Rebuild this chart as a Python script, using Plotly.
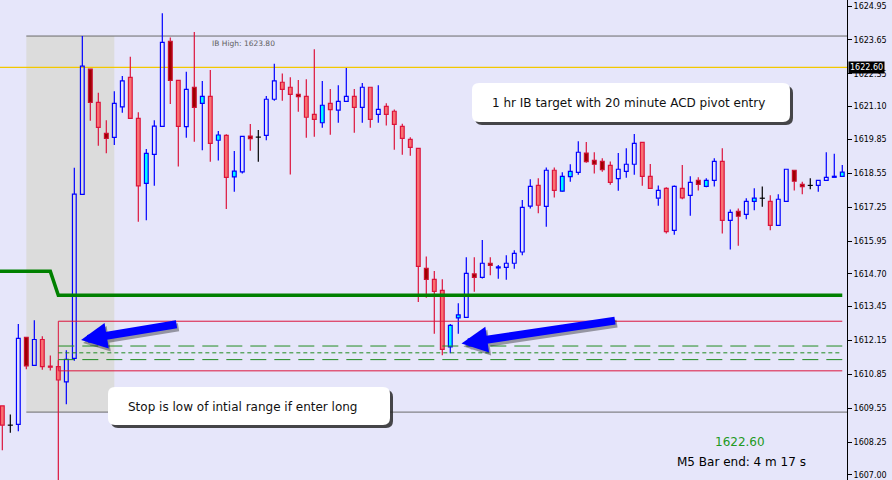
import plotly.graph_objects as go

# M5 bars, oldest first ########################################################
bar_open = [
    1609.64, 1608.90, 1608.93, 1612.26, 1611.19, 1612.18, 1611.16, 1611.14, 1610.56, 1611.46,
    1617.74, 1622.53, 1621.26, 1620.07, 1619.92, 1621.09, 1622.22, 1620.65, 1618.16, 1619.27,
    1620.34, 1623.60, 1622.10, 1620.33, 1621.84, 1621.22, 1621.49, 1619.81, 1620.00, 1618.41,
    1618.60, 1619.97, 1619.93, 1620.00, 1621.38, 1622.03, 1621.84, 1621.57, 1621.49, 1620.80,
    1620.48, 1621.22, 1620.96, 1621.30, 1621.49, 1621.07, 1621.84, 1620.80, 1621.11, 1620.92,
    1620.34, 1619.84, 1619.50, 1614.90, 1614.48, 1614.06, 1611.90, 1613.01, 1613.03, 1614.69,
    1614.56, 1615.10, 1614.92, 1614.94, 1615.10, 1615.53, 1617.29, 1618.08, 1617.28, 1618.66,
    1617.86, 1618.42, 1618.58, 1619.32, 1619.04, 1619.00, 1618.85, 1618.34, 1618.62, 1618.89,
    1619.73, 1618.43, 1617.59, 1617.97, 1616.36, 1617.97, 1617.70, 1618.27, 1618.04, 1618.27,
    1619.00, 1616.74, 1617.09, 1616.97, 1617.47, 1617.59, 1617.47, 1616.55, 1617.47, 1618.66,
    1618.12, 1618.08, 1618.08, 1618.27, 1618.39, 1618.43,
]
bar_high = [
    1609.64, 1609.31, 1612.77, 1612.26, 1612.92, 1612.30, 1611.57, 1611.39, 1611.77, 1618.76,
    1623.80, 1622.53, 1621.63, 1620.58, 1621.69, 1622.27, 1623.01, 1620.88, 1619.47, 1620.58,
    1624.67, 1623.74, 1622.10, 1622.43, 1623.95, 1622.08, 1622.50, 1620.16, 1620.04, 1619.40,
    1619.96, 1620.43, 1620.20, 1621.50, 1622.74, 1622.37, 1622.22, 1622.12, 1622.15, 1623.29,
    1622.08, 1621.77, 1621.92, 1622.58, 1621.77, 1622.00, 1621.84, 1621.92, 1621.23, 1620.99,
    1620.44, 1619.92, 1619.50, 1615.36, 1614.80, 1614.49, 1612.77, 1613.57, 1615.33, 1615.33,
    1615.99, 1615.33, 1615.03, 1615.41, 1615.60, 1617.52, 1618.32, 1618.35, 1618.77, 1618.77,
    1618.58, 1618.89, 1619.77, 1619.74, 1619.35, 1619.12, 1619.00, 1619.32, 1619.50, 1620.05,
    1619.73, 1618.90, 1618.08, 1618.01, 1618.08, 1618.86, 1618.43, 1618.39, 1618.35, 1619.12,
    1619.50, 1617.16, 1617.20, 1617.59, 1617.97, 1618.04, 1617.70, 1617.74, 1618.70, 1618.66,
    1618.22, 1618.35, 1618.27, 1619.35, 1619.29, 1618.86,
]
bar_low = [
    1607.94, 1608.61, 1608.67, 1611.04, 1611.19, 1611.02, 1610.99, 1606.40, 1609.70, 1611.37,
    1617.74, 1620.56, 1619.60, 1619.31, 1619.63, 1620.86, 1620.65, 1616.69, 1616.75, 1618.07,
    1620.33, 1621.20, 1618.80, 1619.91, 1619.75, 1619.43, 1618.99, 1619.03, 1617.18, 1617.84,
    1618.54, 1619.41, 1618.99, 1619.81, 1621.32, 1621.32, 1618.50, 1620.90, 1619.91, 1619.94,
    1620.29, 1620.02, 1620.48, 1621.30, 1620.10, 1620.48, 1620.29, 1620.48, 1620.37, 1619.45,
    1619.25, 1619.22, 1613.62, 1613.78, 1612.40, 1611.58, 1611.65, 1612.40, 1613.03, 1614.01,
    1614.52, 1614.64, 1614.51, 1614.47, 1614.89, 1615.41, 1617.20, 1617.01, 1616.50, 1617.62,
    1617.84, 1618.22, 1618.49, 1618.95, 1618.54, 1618.60, 1618.11, 1617.88, 1618.37, 1618.49,
    1618.07, 1617.97, 1617.30, 1616.24, 1616.19, 1617.55, 1616.92, 1617.89, 1618.01, 1618.04,
    1616.24, 1615.63, 1615.77, 1616.78, 1617.13, 1617.26, 1616.36, 1616.55, 1617.47, 1617.89,
    1617.74, 1617.93, 1617.84, 1618.27, 1618.39, 1618.43,
]
bar_close = [
    1608.90, 1608.90, 1612.22, 1611.17, 1612.18, 1611.14, 1611.12, 1610.63, 1611.42, 1617.75,
    1622.65, 1621.26, 1620.30, 1619.88, 1621.22, 1622.08, 1620.65, 1618.06, 1619.31, 1620.35,
    1623.56, 1622.10, 1620.34, 1621.76, 1621.07, 1621.49, 1619.69, 1620.01, 1618.39, 1618.63,
    1619.96, 1619.87, 1619.93, 1621.38, 1622.08, 1621.76, 1621.57, 1621.48, 1620.69, 1620.61,
    1621.15, 1620.98, 1621.30, 1621.49, 1621.07, 1621.84, 1620.61, 1620.99, 1620.80, 1620.42,
    1619.88, 1619.54, 1614.98, 1614.48, 1614.02, 1611.80, 1612.72, 1613.12, 1614.71, 1614.56,
    1615.10, 1615.02, 1614.96, 1615.10, 1615.48, 1617.24, 1618.04, 1617.32, 1618.66, 1617.89,
    1618.43, 1618.62, 1619.35, 1618.99, 1618.89, 1618.68, 1618.20, 1618.70, 1618.89, 1619.69,
    1618.43, 1617.97, 1617.89, 1616.31, 1618.04, 1617.60, 1618.20, 1618.12, 1618.27, 1619.00,
    1616.74, 1617.05, 1616.90, 1617.47, 1617.59, 1617.59, 1616.55, 1617.55, 1618.70, 1618.24,
    1618.03, 1618.08, 1618.27, 1618.39, 1618.43, 1618.59,
]
# u = bull hollow, c = bull filled, d = bear, r = bear dark, x = doji
bar_kind = [
    'd', 'x', 'u', 'r', 'u', 'd', 'd', 'd', 'u', 'u',
    'u', 'r', 'd', 'r', 'u', 'u', 'd', 'd', 'c', 'u',
    'u', 'r', 'd', 'u', 'r', 'c', 'd', 'c', 'd', 'c',
    'u', 'r', 'x', 'u', 'u', 'd', 'd', 'r', 'd', 'd',
    'c', 'd', 'u', 'u', 'd', 'u', 'd', 'u', 'd', 'd',
    'd', 'd', 'd', 'r', 'd', 'd', 'c', 'c', 'u', 'r',
    'u', 'r', 'c', 'u', 'u', 'u', 'u', 'd', 'u', 'd',
    'c', 'c', 'u', 'r', 'r', 'r', 'd', 'u', 'u', 'u',
    'd', 'd', 'u', 'd', 'u', 'd', 'u', 'r', 'c', 'u',
    'd', 'u', 'r', 'u', 'c', 'x', 'd', 'u', 'u', 'r',
    'r', 'x', 'u', 'u', 'c', 'c',
]

# Levels #######################################################################
ib_high = 1623.80
ib_low = 1609.40
ib_first_bar = 3
ib_last_bar = 14
pivot_before = 1614.79
pivot_after = 1613.87
pivot_switch_bar = 7
acd_upper = 1612.88
acd_lower = 1610.98
entry_levels = [1611.93, 1611.67, 1611.41]
level_start_bar = 7
current_price = 1622.60
timer_text = 'M5 Bar end: 4 m 17 s'

tick_vals = [1624.95, 1623.65, 1622.35, 1621.10, 1619.85, 1618.55, 1617.25, 1615.95,
             1614.70, 1613.45, 1612.15, 1610.85, 1609.55, 1608.25, 1607.00]
tick_text = [f'{v:.2f}' for v in tick_vals]

# Styling ######################################################################
BG = '#e6e6fa'
BLUE = '#0000ff'
CRIMSON = '#dc143c'
FONT = 'DejaVu Sans'
PW, PH = 847, 480          # plot area in px
x_min, x_max = -0.29, 105.59
y_min, y_max = 1606.80, 1625.18

styles = {
    'u': dict(fill='rgba(0,0,0,0)', line=BLUE, wick=BLUE),
    'c': dict(fill='#00ffff', line=BLUE, wick=BLUE),
    'd': dict(fill='#f87272', line=CRIMSON, wick=CRIMSON),
    'r': dict(fill='#9e0000', line='#cc1030', wick=CRIMSON),
    'x': dict(fill=None, line='black', wick='black'),
}

bar_x = list(range(len(bar_open)))

fig = go.Figure()

## Wicks ##
wicks = {}
for i, o, h, l, c, k in zip(bar_x, bar_open, bar_high, bar_low, bar_close, bar_kind):
    col = styles[k]['wick']
    xs, ys = wicks.setdefault(col, ([], []))
    top, bot = max(o, c), min(o, c)
    if k == 'x':
        xs += [i, i, None, i - 0.32, i + 0.32, None]
        ys += [h, l, None, o, o, None]
        continue
    if h > top:
        xs += [i, i, None]
        ys += [h, top, None]
    if l < bot:
        xs += [i, i, None]
        ys += [bot, l, None]

for col, (xs, ys) in wicks.items():
    fig.add_trace(go.Scatter(x=xs, y=ys, mode='lines', line=dict(color=col, width=1.2),
                             hoverinfo='skip'))

## Bodies ##
for kind in ['u', 'c', 'd', 'r']:
    idx = [i for i in bar_x if bar_kind[i] == kind]
    base = [min(bar_open[i], bar_close[i]) for i in idx]
    height = [abs(bar_close[i] - bar_open[i]) for i in idx]
    fig.add_trace(go.Bar(x=idx, y=height, base=base, width=0.47,
                         marker=dict(color=styles[kind]['fill'],
                                     line=dict(color=styles[kind]['line'], width=1.2)),
                         hoverinfo='skip'))

## Indicator lines ##
last_bar = bar_x[-1]
fig.add_trace(go.Scatter(x=[-0.3, pivot_switch_bar - 1, pivot_switch_bar, last_bar],
                         y=[pivot_before, pivot_before, pivot_after, pivot_after],
                         mode='lines', line=dict(color='#008000', width=3.5), hoverinfo='skip'))

fig.add_trace(go.Scatter(x=[last_bar, level_start_bar, level_start_bar, last_bar],
                         y=[acd_upper, acd_upper, acd_lower, acd_lower],
                         mode='lines', line=dict(color=CRIMSON, width=1), hoverinfo='skip'))

for lvl, dash in zip(entry_levels, ['16px,8px', '4px,3px', '16px,8px']):
    fig.add_trace(go.Scatter(x=[level_start_bar, last_bar], y=[lvl, lvl], mode='lines',
                             line=dict(color='#228b22', width=1, dash=dash), hoverinfo='skip'))

## IB box, IB lines, price line ##
shapes = [
    dict(type='rect', xref='x', yref='y', x0=ib_first_bar, x1=ib_last_bar, y0=ib_low, y1=ib_high,
         fillcolor='#dcdcdc', line=dict(width=0), layer='below'),
    dict(type='line', xref='x', yref='y', x0=ib_first_bar, x1=x_max, y0=ib_high, y1=ib_high,
         line=dict(color='#6a6a6a', width=1), layer='below'),
    dict(type='line', xref='x', yref='y', x0=ib_first_bar, x1=x_max, y0=ib_low, y1=ib_low,
         line=dict(color='#6a6a6a', width=1), layer='below'),
    dict(type='line', xref='x', yref='y', x0=x_min, x1=x_max, y0=current_price, y1=current_price,
         line=dict(color='#f2c800', width=1.4), layer='below'),
]


def rounded_box(x0, y0, x1, y1, r, color):
    # pixel coords of the plot area -> paper path with rounded corners
    pts = [('M', x0 + r, y0), ('L', x1 - r, y0), ('Q', x1, y0), ('', x1, y0 + r),
           ('L', x1, y1 - r), ('Q', x1, y1), ('', x1 - r, y1), ('L', x0 + r, y1),
           ('Q', x0, y1), ('', x0, y1 - r), ('L', x0, y0 + r), ('Q', x0, y0), ('', x0 + r, y0)]
    path = ' '.join(f'{cmd}{px / PW:.5f},{1 - py / PH:.5f}' for cmd, px, py in pts) + ' Z'
    return dict(type='path', xref='paper', yref='paper', path=path, fillcolor=color,
                line=dict(width=0), layer='above')


# box in px, text centre in px, text
callouts = [
    ((472, 83, 790, 122), (628, 103), '1 hr IB target with 20 minute ACD pivot entry'),
    ((108, 387, 390, 425), (242, 407), 'Stop is low of intial range if enter long'),
]
annotations = []
for (x0, y0, x1, y1), (tx, ty), txt in callouts:
    shapes.append(rounded_box(x0 + 3, y0 + 3, x1 + 3, y1 + 3, 7, 'rgba(40,40,40,0.85)'))
    shapes.append(rounded_box(x0, y0, x1, y1, 7, 'white'))
    annotations.append(dict(xref='paper', yref='paper', x=tx / PW, y=1 - ty / PH,
                            xanchor='center', yanchor='middle', text=txt, showarrow=False,
                            font=dict(family=FONT, size=12, color='#111111')))

## Arrows (shadow first) ##
arrows = [(9.84, 1612.16, 97, -16), (57.4, 1612.03, 155, -23)]
for x, y, ax, ay in arrows:
    annotations.append(dict(x=x, y=y, ax=ax, ay=ay, xref='x', yref='y', text='', showarrow=True,
                            arrowhead=2, arrowsize=0.65, arrowwidth=8, standoff=0,
                            arrowcolor='rgba(0,0,0,0.35)', xshift=2, yshift=-3))
    annotations.append(dict(x=x, y=y, ax=ax, ay=ay, xref='x', yref='y', text='', showarrow=True,
                            arrowhead=2, arrowsize=0.65, arrowwidth=8, standoff=0,
                            arrowcolor=BLUE))

annotations += [
    dict(xref='x', yref='y', x=26, y=ib_high, xanchor='left', yanchor='top', yshift=-1,
         text=f'IB High: {ib_high:.2f}', showarrow=False,
         font=dict(family=FONT, size=7.5, color='#606060')),
    dict(xref='paper', yref='y', x=1, y=current_price, xanchor='left', yanchor='middle', xshift=1,
         text=f'{current_price:.2f}', showarrow=False, bgcolor='black', borderpad=1,
         font=dict(family=FONT, size=8, color='white')),
    dict(xref='paper', yref='paper', x=740 / PW, y=1 - 442 / PH, xanchor='center',
         yanchor='middle', text=f'{current_price:.2f}', showarrow=False,
         font=dict(family=FONT, size=12, color='#229922')),
    dict(xref='paper', yref='paper', x=741 / PW, y=1 - 462 / PH, xanchor='center',
         yanchor='middle', text=timer_text, showarrow=False,
         font=dict(family=FONT, size=12, color='black')),
]

fig.update_layout(width=892, height=480, margin=dict(l=0, r=45, t=0, b=0),
                  paper_bgcolor=BG, plot_bgcolor=BG, showlegend=False,
                  barmode='overlay', shapes=shapes, annotations=annotations)

fig.update_xaxes(range=[x_min, x_max], showgrid=False, zeroline=False, showticklabels=False,
                 showline=True, linecolor='black', linewidth=1, ticks='')

fig.update_yaxes(side='right', range=[y_min, y_max], tickvals=tick_vals, ticktext=tick_text,
                 ticks='outside', ticklen=4, tickcolor='black', showline=True, linecolor='black',
                 linewidth=1, showgrid=False, zeroline=False, automargin=False,
                 tickfont=dict(family=FONT, size=8, color='black'))

# page body has an 8px default margin; drop it so the figure fills the window
fig.write_html("out.html", config={'displayModeBar': False},
               post_script="document.body.style.margin='0';")
